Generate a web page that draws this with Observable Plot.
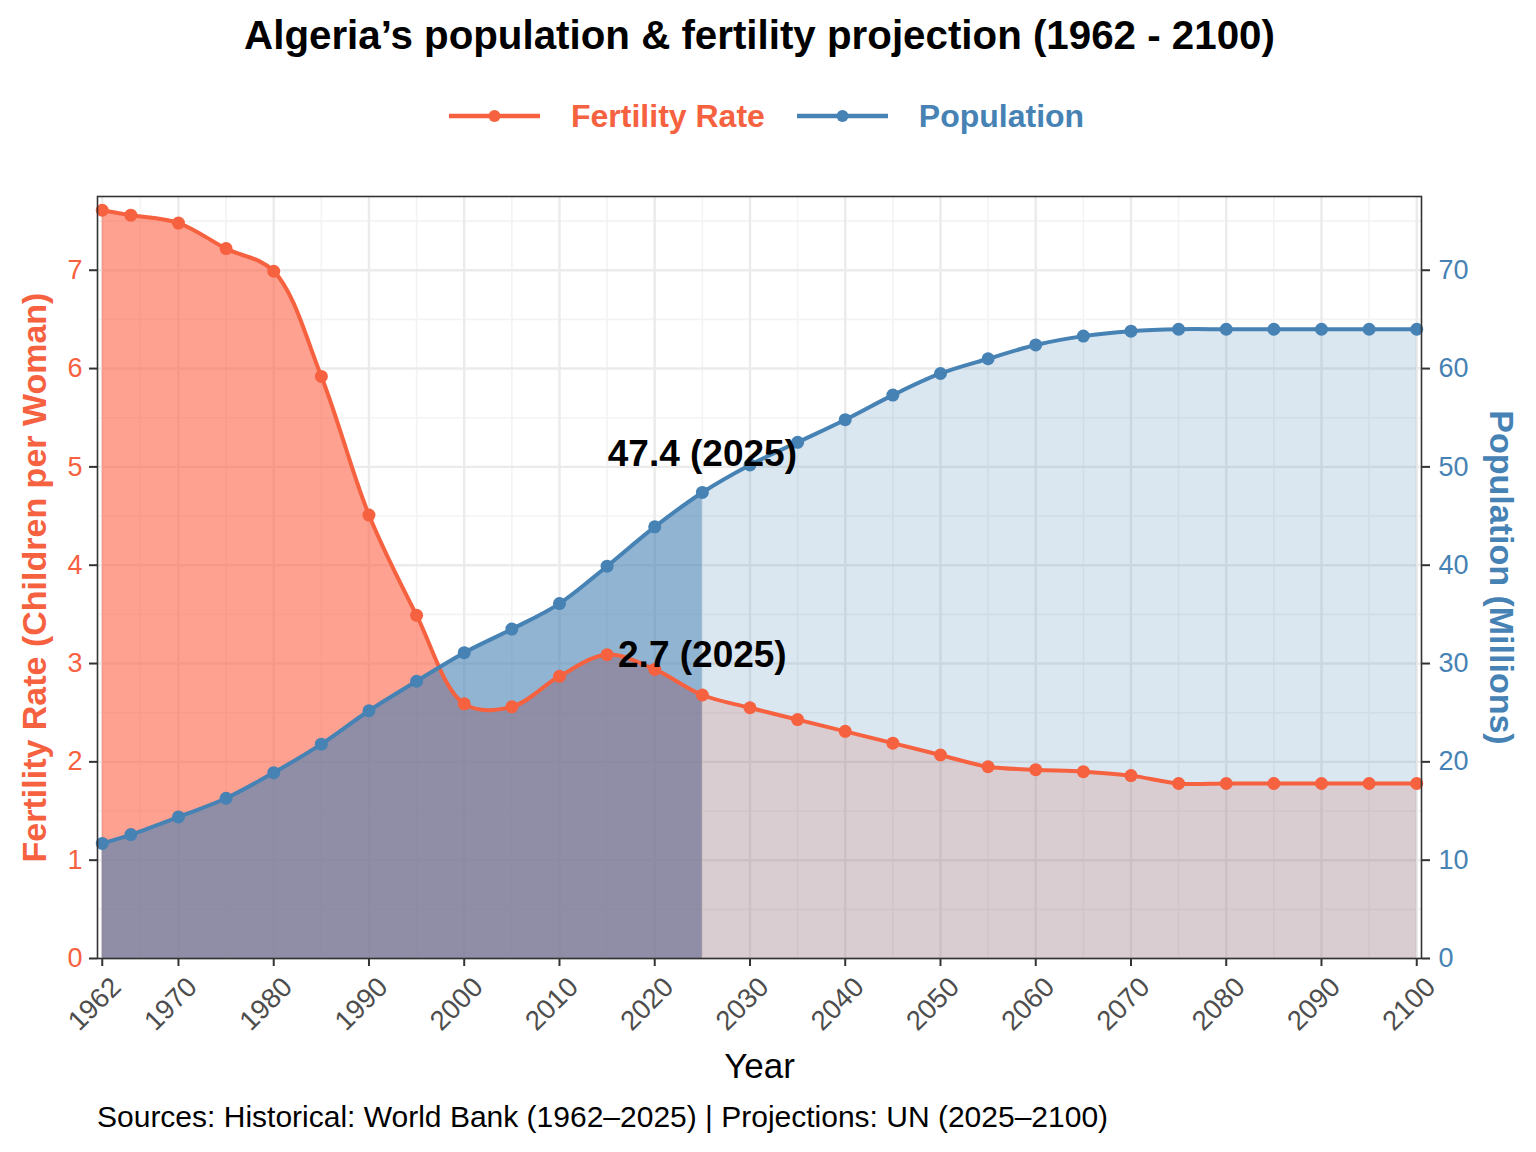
<!DOCTYPE html>
<html><head><meta charset="utf-8">
<script src="https://cdn.jsdelivr.net/npm/d3@7"></script>
<script src="https://cdn.jsdelivr.net/npm/@observablehq/plot@0.6"></script>
<style>
body{margin:0;background:#fff;font-family:"Liberation Sans",Arial,sans-serif;}
#wrap{position:relative;width:1536px;height:1152px;overflow:hidden;background:#fff}
#title{position:absolute;left:0;width:1519px;top:12px;text-align:center;font-weight:bold;font-size:40.3px;line-height:48px;color:#000}
#legend{position:absolute;left:449px;top:98px;height:36px;display:flex;align-items:center;font-weight:bold;font-size:32px;line-height:36px}
#legend svg{display:block}
#chart{position:absolute;left:0;top:150px}
#caption{position:absolute;left:97px;top:1099px;font-size:30px;line-height:36px;color:#000;white-space:nowrap}
</style></head>
<body>
<div id="wrap">
  <div id="title"></div>
  <div id="legend"></div>
  <div id="chart"></div>
  <div id="caption"></div>
</div>
<script>
// ---- data ----
const years = [1962,1965,1970,1975,1980,1985,1990,1995,2000,2005,2010,2015,2020,2025,
               2030,2035,2040,2045,2050,2055,2060,2065,2070,2075,2080,2085,2090,2095,2100];
const fertility = [7.61,7.56,7.48,7.22,6.99,5.92,4.51,3.49,2.59,2.56,2.87,3.09,2.94,2.68,
                   2.55,2.43,2.31,2.19,2.07,1.95,1.92,1.90,1.86,1.78,1.78,1.78,1.78,1.78,1.78];
const population = [11.7,12.6,14.4,16.3,18.9,21.8,25.2,28.2,31.1,33.5,36.1,39.9,43.9,47.4,
                    50.2,52.5,54.8,57.3,59.5,61.0,62.4,63.3,63.8,64.0,64.0,64.0,64.0,64.0,64.0];
const splitYear = 2025;
const xTicks = [1962,1970,1980,1990,2000,2010,2020,2030,2040,2050,2060,2070,2080,2090,2100];
const xMinor = [1966,1975,1985,1995,2005,2015,2025,2035,2045,2055,2065,2075,2085,2095];
const fertTicks = [0,1,2,3,4,5,6,7];
const fertMinor = [0.5,1.5,2.5,3.5,4.5,5.5,6.5,7.5];
const popTicks = [0,10,20,30,40,50,60,70];
const annLabels = ["47.4 (2025)", "2.7 (2025)"];
const annValues = [47.4, 2.7];
const annSeries = ["Population", "Fertility Rate"];

const titleText = "Algeria’s population & fertility projection (1962 - 2100)";
const captionText = "Sources: Historical: World Bank (1962–2025) | Projections: UN (2025–2100)";
const FERT = "#F6613F";
const POP = "#4682B4";
const POP_SCALE = 10; // population (millions) shares the fertility axis at 1:10

// ---- header / legend / caption ----
document.getElementById("title").textContent = titleText;
document.getElementById("caption").textContent = captionText;
const legend = document.getElementById("legend");
[["Fertility Rate", FERT, 31, 32], ["Population", POP, 31, 0]].forEach(([name, col, gap, after]) => {
  const key = document.createElementNS("http://www.w3.org/2000/svg", "svg");
  key.setAttribute("width", 91); key.setAttribute("height", 36);
  key.innerHTML = `<line x1="0" x2="91" y1="18" y2="18" stroke="${col}" stroke-width="4.5"/><circle cx="45.5" cy="18" r="6" fill="${col}"/>`;
  key.style.marginRight = gap + "px";
  const span = document.createElement("span");
  span.textContent = name; span.style.color = col; span.style.marginRight = after + "px";
  legend.appendChild(key); legend.appendChild(span);
});

// ---- rows ----
const rows = years.map((year, i) => ({year, fert: fertility[i], pop: population[i]}));
const hist = rows.filter(d => d.year <= splitYear);
const proj = rows.filter(d => d.year >= splitYear);
const ann = annLabels.map((label, i) => ({
  year: splitYear,
  y: annSeries[i] === "Population" ? annValues[i] / POP_SCALE : annValues[i],
  label
}));
const popY = d => d.pop / POP_SCALE;
const curve = "catmull-rom";

const chart = Plot.plot({
  width: 1536,
  height: 960,
  marginTop: 46,
  marginBottom: 152,
  marginLeft: 97,
  marginRight: 115,
  style: {fontFamily: "'Liberation Sans', Arial, sans-serif", background: "transparent"},
  x: {domain: [1961.5, 2100.5]},
  y: {domain: [0, 7.75]},
  marks: [
    Plot.gridY(fertMinor, {stroke: "#F3F3F3", strokeOpacity: 1, strokeWidth: 1.6}),
    Plot.gridX(xMinor, {stroke: "#F3F3F3", strokeOpacity: 1, strokeWidth: 1.6}),
    Plot.gridY(fertTicks, {stroke: "#EBEBEB", strokeOpacity: 1, strokeWidth: 2.4}),
    Plot.gridX(xTicks, {stroke: "#EBEBEB", strokeOpacity: 1, strokeWidth: 2.4}),
    Plot.areaY(hist, {x: "year", y: "fert", fill: "tomato", fillOpacity: 0.6, curve}),
    Plot.areaY(proj, {x: "year", y: "fert", fill: "tomato", fillOpacity: 0.2, curve}),
    Plot.areaY(hist, {x: "year", y: popY, fill: POP, fillOpacity: 0.6, curve}),
    Plot.areaY(proj, {x: "year", y: popY, fill: POP, fillOpacity: 0.2, curve}),
    Plot.line(rows, {x: "year", y: "fert", stroke: FERT, strokeWidth: 4, curve}),
    Plot.line(rows, {x: "year", y: popY, stroke: POP, strokeWidth: 4, curve}),
    Plot.dot(rows, {x: "year", y: "fert", r: 6.5, fill: FERT}),
    Plot.dot(rows, {x: "year", y: popY, r: 6.5, fill: POP}),
    Plot.text(ann, {x: "year", y: "y", text: "label", dy: -38, fontSize: 37, fontWeight: "bold", fill: "#000"}),
    Plot.frame({stroke: "#333", strokeWidth: 1.6}),
    // x ticks (marks only)
    Plot.axisX(xTicks, {tickSize: 8, stroke: "#333", strokeWidth: 2, label: null, tickFormat: () => ""}),
    // x tick labels (rotated, offset like ggplot hjust=1/vjust=1)
    Plot.axisX(xTicks, {tickSize: 0, tickPadding: 12, tickRotate: -45, textAnchor: "end",
      fontSize: 27.5, fill: "#4D4D4D", label: null, dx: 14, dy: 12, tickFormat: d => String(d)}),
    Plot.axisY(fertTicks, {anchor: "left", tickSize: 8, tickPadding: 7, fontSize: 27,
      stroke: "#333", strokeWidth: 2, fill: FERT, label: null, tickFormat: d => String(d)}),
    Plot.axisY(fertTicks, {anchor: "right", tickSize: 8, tickPadding: 9, fontSize: 27,
      stroke: "#333", strokeWidth: 2, fill: POP, label: null, tickFormat: d => String(popTicks[d])}),
    Plot.text(["Year"], {frameAnchor: "bottom", dy: 119, fontSize: 35, fill: "#000", text: d => d}),
    Plot.text(["Fertility Rate (Children per Woman)"], {frameAnchor: "left", dx: -62, rotate: -90,
      textAnchor: "middle", fontSize: 34, fontWeight: "bold", fill: FERT, text: d => d}),
    Plot.text(["Population (Millions)"], {frameAnchor: "right", dx: 79, rotate: 90,
      textAnchor: "middle", fontSize: 34, fontWeight: "bold", fill: POP, text: d => d})
  ]
});
document.getElementById("chart").appendChild(chart);
</script>
</body></html>
